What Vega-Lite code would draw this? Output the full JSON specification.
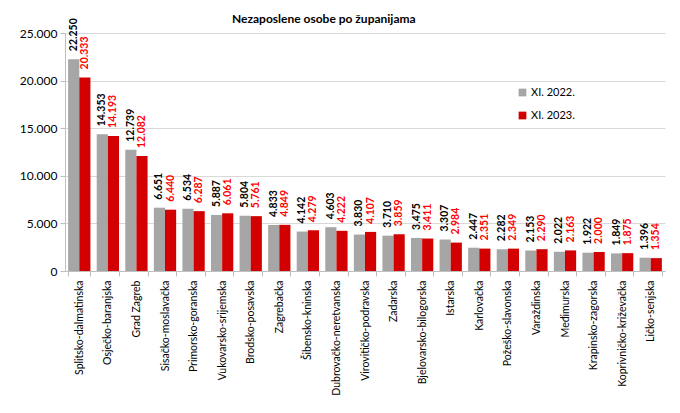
{
  "$schema": "https://vega.github.io/schema/vega-lite/v6.json",
  "width": 600,
  "height": 238,
  "autosize": {"type": "none"},
  "padding": {"left": 65, "top": 33, "right": 15, "bottom": 142},
  "background": "white",
  "title": {"text": "Nezaposlene osobe po županijama", "font": "Lato", "fontSize": 12, "fontWeight": "bold", "color": "#000000", "anchor": "start", "frame": "group", "dx": 167, "offset": -8},
  "data": {"values": [
    {"county": "Splitsko-dalmatinska", "series": "XI. 2022.", "value": 22250},
    {"county": "Splitsko-dalmatinska", "series": "XI. 2023.", "value": 20333},
    {"county": "Osječko-baranjska", "series": "XI. 2022.", "value": 14353},
    {"county": "Osječko-baranjska", "series": "XI. 2023.", "value": 14193},
    {"county": "Grad Zagreb", "series": "XI. 2022.", "value": 12739},
    {"county": "Grad Zagreb", "series": "XI. 2023.", "value": 12082},
    {"county": "Sisačko-moslavačka", "series": "XI. 2022.", "value": 6651},
    {"county": "Sisačko-moslavačka", "series": "XI. 2023.", "value": 6440},
    {"county": "Primorsko-goranska", "series": "XI. 2022.", "value": 6534},
    {"county": "Primorsko-goranska", "series": "XI. 2023.", "value": 6287},
    {"county": "Vukovarsko-srijemska", "series": "XI. 2022.", "value": 5887},
    {"county": "Vukovarsko-srijemska", "series": "XI. 2023.", "value": 6061},
    {"county": "Brodsko-posavska", "series": "XI. 2022.", "value": 5804},
    {"county": "Brodsko-posavska", "series": "XI. 2023.", "value": 5761},
    {"county": "Zagrebačka", "series": "XI. 2022.", "value": 4833},
    {"county": "Zagrebačka", "series": "XI. 2023.", "value": 4849},
    {"county": "Šibensko-kninska", "series": "XI. 2022.", "value": 4142},
    {"county": "Šibensko-kninska", "series": "XI. 2023.", "value": 4279},
    {"county": "Dubrovačko-neretvanska", "series": "XI. 2022.", "value": 4603},
    {"county": "Dubrovačko-neretvanska", "series": "XI. 2023.", "value": 4222},
    {"county": "Virovitičko-podravska", "series": "XI. 2022.", "value": 3830},
    {"county": "Virovitičko-podravska", "series": "XI. 2023.", "value": 4107},
    {"county": "Zadarska", "series": "XI. 2022.", "value": 3710},
    {"county": "Zadarska", "series": "XI. 2023.", "value": 3859},
    {"county": "Bjelovarsko-bilogorska", "series": "XI. 2022.", "value": 3475},
    {"county": "Bjelovarsko-bilogorska", "series": "XI. 2023.", "value": 3411},
    {"county": "Istarska", "series": "XI. 2022.", "value": 3307},
    {"county": "Istarska", "series": "XI. 2023.", "value": 2984},
    {"county": "Karlovačka", "series": "XI. 2022.", "value": 2447},
    {"county": "Karlovačka", "series": "XI. 2023.", "value": 2351},
    {"county": "Požeško-slavonska", "series": "XI. 2022.", "value": 2282},
    {"county": "Požeško-slavonska", "series": "XI. 2023.", "value": 2349},
    {"county": "Varaždinska", "series": "XI. 2022.", "value": 2153},
    {"county": "Varaždinska", "series": "XI. 2023.", "value": 2290},
    {"county": "Međimurska", "series": "XI. 2022.", "value": 2022},
    {"county": "Međimurska", "series": "XI. 2023.", "value": 2163},
    {"county": "Krapinsko-zagorska", "series": "XI. 2022.", "value": 1922},
    {"county": "Krapinsko-zagorska", "series": "XI. 2023.", "value": 2000},
    {"county": "Koprivničko-križevačka", "series": "XI. 2022.", "value": 1849},
    {"county": "Koprivničko-križevačka", "series": "XI. 2023.", "value": 1875},
    {"county": "Ličko-senjska", "series": "XI. 2022.", "value": 1396},
    {"county": "Ličko-senjska", "series": "XI. 2023.", "value": 1354}
  ]},
  "encoding": {
    "x": {
      "field": "county", "type": "nominal", "sort": null,
      "scale": {"paddingInner": 0.22, "paddingOuter": 0.11},
      "axis": {"title": null, "labelAngle": -90, "labelAlign": "right", "labelBaseline": "middle", "labelFont": "Lato", "labelFontSize": 10.5, "labelColor": "#000000", "labelPadding": 4, "tickBand": "extent", "tickSize": 5, "tickColor": "#bfbfbf", "domainColor": "#bfbfbf", "grid": false}
    },
    "xOffset": {"field": "series", "type": "nominal", "scale": {"paddingInner": 0, "paddingOuter": 0}},
    "y": {
      "field": "value", "type": "quantitative",
      "scale": {"domain": [0, 25000], "nice": false},
      "axis": {"title": null, "values": [0, 5000, 10000, 15000, 20000, 25000], "format": ",d", "labelFont": "Lato", "labelFontSize": 12, "labelColor": "#000000", "labelPadding": 3, "tickSize": 5, "tickColor": "#bfbfbf", "domainColor": "#bfbfbf", "gridColor": "#d9d9d9"}
    }
  },
  "layer": [
    {
      "mark": {"type": "bar"},
      "encoding": {
        "color": {
          "field": "series", "type": "nominal",
          "scale": {"domain": ["XI. 2022.", "XI. 2023."], "range": ["#a6a6a6", "#d20000"]},
          "legend": {"title": null, "orient": "none", "legendX": 452, "legendY": 54, "symbolType": "square", "symbolSize": 60, "symbolStrokeWidth": 0, "labelFont": "Lato", "labelFontSize": 11, "labelColor": "#000000", "rowPadding": 11, "labelOffset": 3}
        }
      }
    },
    {
      "mark": {"type": "text", "angle": 270, "align": "left", "baseline": "middle", "dx": 8, "font": "Lato", "fontSize": 10.5, "fontWeight": "bold"},
      "encoding": {
        "text": {"field": "value", "type": "quantitative", "format": ",d"},
        "color": {
          "field": "series", "type": "nominal",
          "scale": {"domain": ["XI. 2022.", "XI. 2023."], "range": ["#000000", "#ff0000"]},
          "legend": null
        }
      }
    }
  ],
  "resolve": {"scale": {"color": "independent"}},
  "config": {
    "locale": {"number": {"decimal": ",", "thousands": ".", "grouping": [3], "currency": ["", " €"]}},
    "view": {"stroke": null}
  }
}
